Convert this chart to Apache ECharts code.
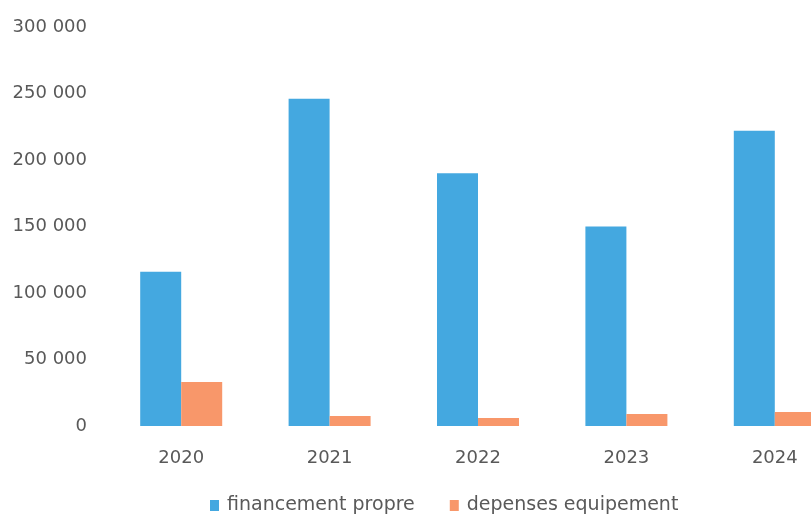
<!DOCTYPE html>
<html>
<head>
<meta charset="utf-8">
<script src="https://cdn.jsdelivr.net/npm/echarts@6/dist/echarts.min.js"></script>
<style>
html,body{margin:0;padding:0;background:#fff;}
#chart{width:811px;height:517px;}
</style>
</head>
<body>
<div id="chart"></div>
<script>
var categories = ['2020', '2021', '2022', '2023', '2024'];
var financementPropre = [116000, 246000, 190000, 150000, 222000];
var depensesEquipement = [33000, 7500, 6000, 9000, 10500];
var seriesNames = ['financement propre', 'depenses equipement'];
var yTicks = [0, 50000, 100000, 150000, 200000, 250000, 300000];

function fmt(v) {
  return String(v).replace(/\B(?=(\d{3})+(?!\d))/g, ' ');
}

var font = 'DejaVu Sans';
var textColor = '#595959';
var chart = echarts.init(document.getElementById('chart'), null, {renderer: 'canvas'});
chart.setOption({
  animation: false,
  backgroundColor: '#ffffff',
  grid: {left: 107, width: 742, top: 27, height: 399, containLabel: false, outerBoundsMode: 'none'},
  legend: {
    data: seriesNames,
    left: 205,
    top: 491,
    icon: 'rect',
    itemWidth: 9,
    itemHeight: 11,
    itemGap: 35,
    textStyle: {fontFamily: font, fontSize: 19, color: textColor, padding: [0, 0, 0, 3]}
  },
  xAxis: {
    type: 'category',
    data: categories,
    axisLine: {show: false},
    axisTick: {show: false},
    axisLabel: {fontFamily: font, fontSize: 18, color: textColor, margin: 23}
  },
  yAxis: {
    type: 'value',
    min: yTicks[0],
    max: yTicks[yTicks.length - 1],
    interval: yTicks[1] - yTicks[0],
    axisLine: {show: false},
    axisTick: {show: false},
    splitLine: {show: false},
    axisLabel: {fontFamily: font, fontSize: 18, color: textColor, margin: 20, padding: [4, 0, 0, 0], formatter: fmt}
  },
  series: [
    {
      name: seriesNames[0],
      type: 'bar',
      data: financementPropre,
      barWidth: 41,
      barGap: '0%',
      itemStyle: {color: '#44A8E0'}
    },
    {
      name: seriesNames[1],
      type: 'bar',
      data: depensesEquipement,
      barWidth: 41,
      barGap: '0%',
      itemStyle: {color: '#F8976A'}
    }
  ]
});
</script>
</body>
</html>
